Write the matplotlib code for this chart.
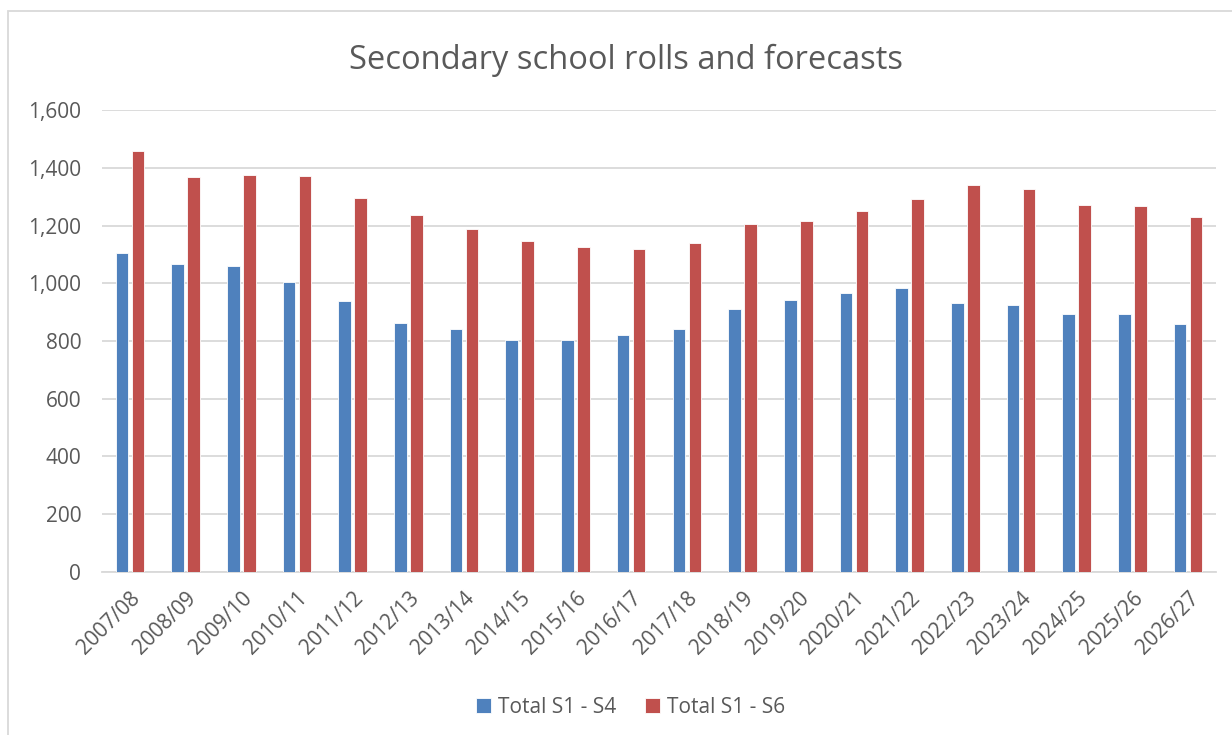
import numpy as np
import matplotlib.pyplot as plt
from matplotlib.patches import Rectangle

plt.rcParams['font.family'] = ['Open Sans', 'DejaVu Sans']

# Data
years = ['2007/08', '2008/09', '2009/10', '2010/11', '2011/12', '2012/13', '2013/14',
         '2014/15', '2015/16', '2016/17', '2017/18', '2018/19', '2019/20', '2020/21',
         '2021/22', '2022/23', '2023/24', '2024/25', '2025/26', '2026/27']
total_s1_s4 = [1106, 1065, 1059, 1003, 937, 864, 843, 802, 803, 820,
               841, 912, 942, 965, 983, 933, 926, 894, 892, 860]
total_s1_s6 = [1457, 1367, 1375, 1370, 1296, 1238, 1187, 1148, 1127, 1117,
               1139, 1206, 1216, 1249, 1291, 1339, 1327, 1270, 1269, 1231]

text_col = '#595959'
grid_col = '#D9D9D9'

fig = plt.figure(figsize=(12.32, 7.35), dpi=100)
ax = fig.add_axes([0.0828, 0.2218, 0.9042, 0.6285])

x = np.arange(len(years))
w = 0.226
ax.bar(x - 0.144, total_s1_s4, w, color='#4F81BD', edgecolor='white', linewidth=0.6,
       label='Total S1 - S4', zorder=3)
ax.bar(x + 0.144, total_s1_s6, w, color='#C0504D', edgecolor='white', linewidth=0.6,
       label='Total S1 - S6', zorder=3)

ax.set_xlim(-0.5, len(years) - 0.5)
ax.set_ylim(0, 1600)
ax.set_yticks(range(0, 1601, 200))
ax.set_yticklabels([f'{v:,}' for v in range(0, 1601, 200)])
ax.yaxis.grid(True, color=grid_col, linewidth=1.3, zorder=0)
ax.set_axisbelow(True)

ax.set_xticks(x)
ax.set_xticklabels(years, rotation=45, ha='right', rotation_mode='anchor')

for s in ['left', 'right', 'top']:
    ax.spines[s].set_visible(False)
ax.spines['bottom'].set_color(grid_col)
ax.spines['bottom'].set_linewidth(1.3)
ax.tick_params(axis='both', length=0, labelsize=15, colors=text_col)
ax.tick_params(axis='y', pad=15)
ax.tick_params(axis='x', pad=11.5)

fig.text(0.508, 0.918, 'Secondary school rolls and forecasts', ha='center', va='center',
         fontsize=23.5, color=text_col)

fig.legend(loc='center', bbox_to_anchor=(0.512, 0.038), ncol=2, frameon=False,
           fontsize=15, labelcolor=text_col, handlelength=0.7, handleheight=0.7,
           handletextpad=0.35, columnspacing=1.4)

# light chart border
fig.patches.append(Rectangle((8 / 1232, -0.1), 1.2, 1 - 11 / 735 + 0.1,
                             transform=fig.transFigure, fill=False,
                             edgecolor=grid_col, linewidth=1.3))

fig.savefig('out.png', dpi=100)
